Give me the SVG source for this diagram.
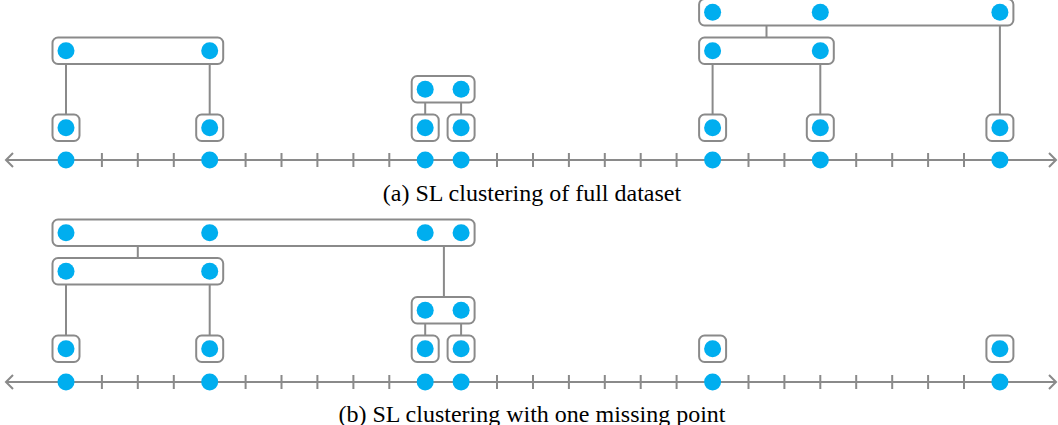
<svg xmlns="http://www.w3.org/2000/svg" xmlns:xlink="http://www.w3.org/1999/xlink" width="1058" height="425" viewBox="0 0 1058 425">
  <style>
    .box { fill: #ffffff; stroke: #8a8a8a; stroke-width: 2; }
    .link { stroke: #8a8a8a; stroke-width: 2; fill: none; }
    .axis { stroke: #8a8a8a; stroke-width: 2; fill: none; }
    .pt { fill: #00aeef; }
    .caption { font-family: "Liberation Serif", "Times New Roman", serif; font-size: 24px; fill: #000000; text-anchor: middle; }
  </style>
  <defs>
    <!-- number line: arrows both ends, unit ticks every 35.92 px starting at x=66 -->
    <g id="number-line">
      <path class="axis" d="M6 0 H1056 M13 -7 L6 0 L13 7 M1049 -7 L1056 0 L1049 7"/>
      <path class="axis" d="M101.9 -7 v14 M137.8 -7 v14 M173.8 -7 v14 M245.6 -7 v14 M281.5 -7 v14 M317.4 -7 v14 M353.4 -7 v14 M389.3 -7 v14 M497 -7 v14 M533 -7 v14 M568.9 -7 v14 M604.8 -7 v14 M640.7 -7 v14 M676.6 -7 v14 M748.5 -7 v14 M784.4 -7 v14 M820.3 -7 v14 M856.2 -7 v14 M892.2 -7 v14 M928.1 -7 v14 M964 -7 v14"/>
    </g>
    <circle id="dot" r="8.5" class="pt"/>
  </defs>

  <!-- ===================== (a) full dataset ===================== -->
  <g id="a-connectors">
    <path class="link" d="M66 64 V114.5 M209.7 64 V114.5 M425.2 102.5 V114.5 M461.1 102.5 V114.5 M712.6 64 V114.5 M820.3 64 V114.5 M766.5 25.5 V37.5 M999.9 25.5 V114.5"/>
  </g>

  <g id="a-axis">
    <use xlink:href="#number-line" y="160"/>
    <use xlink:href="#dot" x="66" y="160"/>
    <use xlink:href="#dot" x="209.7" y="160"/>
    <use xlink:href="#dot" x="425.2" y="160"/>
    <use xlink:href="#dot" x="461.1" y="160"/>
    <use xlink:href="#dot" x="712.6" y="160"/>
    <use xlink:href="#dot" x="820.3" y="160"/>
    <use xlink:href="#dot" x="999.9" y="160"/>
  </g>

  <!-- singleton clusters -->
  <g id="a-s1"><rect class="box" x="52.5" y="114.5" width="27" height="26.5" rx="5.5"/><use xlink:href="#dot" x="66" y="127.7"/></g>
  <g id="a-s2"><rect class="box" x="196.2" y="114.5" width="27" height="26.5" rx="5.5"/><use xlink:href="#dot" x="209.7" y="127.7"/></g>
  <g id="a-s3"><rect class="box" x="411.7" y="114.5" width="27" height="26.5" rx="5.5"/><use xlink:href="#dot" x="425.2" y="127.7"/></g>
  <g id="a-s4"><rect class="box" x="447.6" y="114.5" width="27" height="26.5" rx="5.5"/><use xlink:href="#dot" x="461.1" y="127.7"/></g>
  <g id="a-s5"><rect class="box" x="699.1" y="114.5" width="27" height="26.5" rx="5.5"/><use xlink:href="#dot" x="712.6" y="127.7"/></g>
  <g id="a-s6"><rect class="box" x="806.8" y="114.5" width="27" height="26.5" rx="5.5"/><use xlink:href="#dot" x="820.3" y="127.7"/></g>
  <g id="a-s7"><rect class="box" x="986.4" y="114.5" width="27" height="26.5" rx="5.5"/><use xlink:href="#dot" x="999.9" y="127.7"/></g>

  <!-- merged clusters -->
  <g id="a-c34"><rect class="box" x="411.7" y="76" width="62.9" height="26.5" rx="5.5"/><use xlink:href="#dot" x="425.2" y="89.2"/><use xlink:href="#dot" x="461.1" y="89.2"/></g>
  <g id="a-c12"><rect class="box" x="52.5" y="37.5" width="170.7" height="26.5" rx="5.5"/><use xlink:href="#dot" x="66" y="50.7"/><use xlink:href="#dot" x="209.7" y="50.7"/></g>
  <g id="a-c56"><rect class="box" x="699.1" y="37.5" width="134.7" height="26.5" rx="5.5"/><use xlink:href="#dot" x="712.6" y="50.7"/><use xlink:href="#dot" x="820.3" y="50.7"/></g>
  <g id="a-c567"><rect class="box" x="699.1" y="-1" width="314.3" height="26.5" rx="5.5"/><use xlink:href="#dot" x="712.6" y="12.2"/><use xlink:href="#dot" x="820.3" y="12.2"/><use xlink:href="#dot" x="999.9" y="12.2"/></g>

  <text id="caption-a" class="caption" x="532" y="201">(a) SL clustering of full dataset</text>

  <!-- ===================== (b) one point removed ===================== -->
  <g id="b-connectors">
    <path class="link" d="M66 284.5 V335.5 M209.7 284.5 V335.5 M425.2 323.5 V335.5 M461.1 323.5 V335.5 M137.8 246 V258 M443.9 246 V297"/>
  </g>

  <g id="b-axis">
    <use xlink:href="#number-line" y="382"/>
    <use xlink:href="#dot" x="66" y="382"/>
    <use xlink:href="#dot" x="209.7" y="382"/>
    <use xlink:href="#dot" x="425.2" y="382"/>
    <use xlink:href="#dot" x="461.1" y="382"/>
    <use xlink:href="#dot" x="712.6" y="382"/>
    <use xlink:href="#dot" x="999.9" y="382"/>
  </g>

  <g id="b-s1"><rect class="box" x="52.5" y="335.5" width="27" height="26.5" rx="5.5"/><use xlink:href="#dot" x="66" y="348.7"/></g>
  <g id="b-s2"><rect class="box" x="196.2" y="335.5" width="27" height="26.5" rx="5.5"/><use xlink:href="#dot" x="209.7" y="348.7"/></g>
  <g id="b-s3"><rect class="box" x="411.7" y="335.5" width="27" height="26.5" rx="5.5"/><use xlink:href="#dot" x="425.2" y="348.7"/></g>
  <g id="b-s4"><rect class="box" x="447.6" y="335.5" width="27" height="26.5" rx="5.5"/><use xlink:href="#dot" x="461.1" y="348.7"/></g>
  <g id="b-s5"><rect class="box" x="699.1" y="335.5" width="27" height="26.5" rx="5.5"/><use xlink:href="#dot" x="712.6" y="348.7"/></g>
  <g id="b-s7"><rect class="box" x="986.4" y="335.5" width="27" height="26.5" rx="5.5"/><use xlink:href="#dot" x="999.9" y="348.7"/></g>

  <g id="b-c34"><rect class="box" x="411.7" y="297" width="62.9" height="26.5" rx="5.5"/><use xlink:href="#dot" x="425.2" y="310.2"/><use xlink:href="#dot" x="461.1" y="310.2"/></g>
  <g id="b-c12"><rect class="box" x="52.5" y="258" width="170.7" height="26.5" rx="5.5"/><use xlink:href="#dot" x="66" y="271.2"/><use xlink:href="#dot" x="209.7" y="271.2"/></g>
  <g id="b-c1234"><rect class="box" x="52.5" y="219.5" width="422.1" height="26.5" rx="5.5"/><use xlink:href="#dot" x="66" y="232.7"/><use xlink:href="#dot" x="209.7" y="232.7"/><use xlink:href="#dot" x="425.2" y="232.7"/><use xlink:href="#dot" x="461.1" y="232.7"/></g>

  <text id="caption-b" class="caption" x="532" y="422">(b) SL clustering with one missing point</text>
</svg>
